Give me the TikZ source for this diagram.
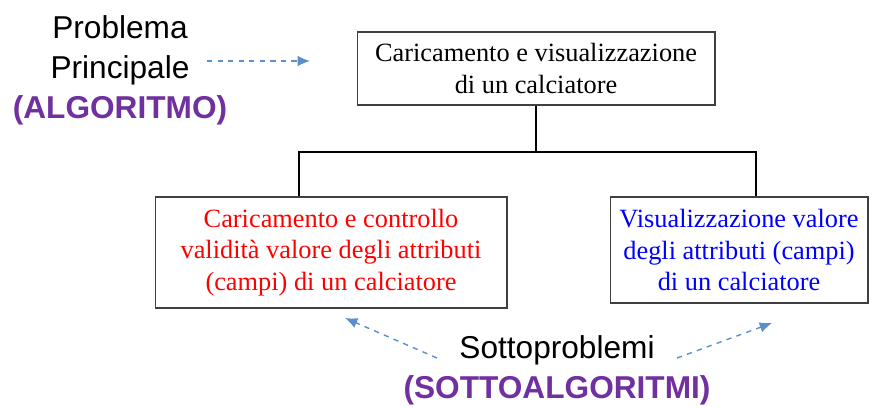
\documentclass[tikz,border=0pt]{standalone}
\usepackage{fontspec}
\setmainfont{Liberation Serif}
\newfontfamily\arialfont{Liberation Sans}
\usetikzlibrary{arrows.meta}
\definecolor{viola}{HTML}{7030A0}
\definecolor{freccia}{HTML}{5B8FCB}
\tikzset{
  scatola/.style={draw=black!75, line width=0.6pt, align=center, font=\fontsize{15}{18}\selectfont},
  etichetta/.style={align=center, inner sep=0pt, font=\arialfont\fontsize{18}{22.7}\selectfont},
  puntata/.style={->, >={Latex[length=7pt,width=6pt]}, dashed, freccia, line width=0.8pt}
}
\begin{document}
\begin{tikzpicture}[x=0.02cm,y=-0.02cm]
		    \begin{scope}
					\useasboundingbox (0,0) rectangle (878,406);

					\node[scatola, minimum width=7.16cm, minimum height=1.46cm] (top) at (536,68.5) {Caricamento e visualizzazione\\di un calciatore};
					\node[scatola, text=red, minimum width=7.04cm, minimum height=2.22cm] (left) at (331,252.5) {Caricamento e controllo\\validità valore degli attributi\\(campi) di un calciatore};
					\node[scatola, text=blue, minimum width=5.16cm, minimum height=2.12cm] (right) at (739,250) {Visualizzazione valore\\degli attributi (campi)\\di un calciatore};

					\coordinate (hubL) at (299,152);
					\coordinate (hubR) at (756,152);
					\draw[line width=1.2pt] (top.south) -- (top.south |- hubL); % albero
					\draw[line width=1.2pt] (hubL |- left.north) -- (hubL) -- (hubR) -- (hubR |- right.north);

					\node[etichetta] (prob) at (120,70) {Problema\\Principale\\{\bfseries\color{viola}(ALGORITMO)}};
					\node[etichetta] (sotto) at (557,370) {Sottoproblemi\\{\bfseries\color{viola}(SOTTOALGORITMI)}};

					\coordinate (probA) at (207,61);
					\coordinate (probB) at (310,61);
					\coordinate (sottoL) at (437,358);
					\coordinate (sottoLB) at (345,318);
					\coordinate (sottoR) at (677,358);
					\coordinate (sottoRB) at (772,323);

					\draw[puntata] (probA) -- (probB); % verso il problema
					\draw[puntata] (sottoL) -- (sottoLB); % verso i sottoproblemi
					\draw[puntata] (sottoR) -- (sottoRB);
		    \end{scope}
\end{tikzpicture}
\end{document}
